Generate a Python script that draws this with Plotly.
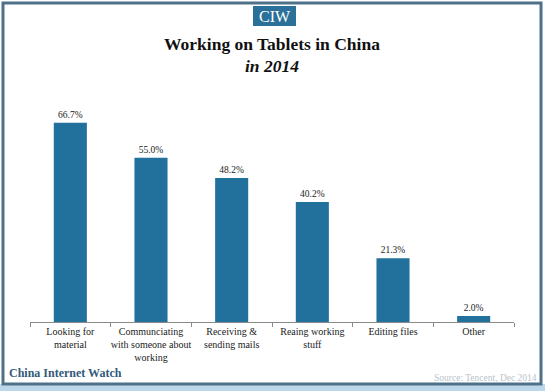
import plotly.graph_objects as go

categories = ["Looking for<br>material", "Communciating<br>with someone about<br>working",
              "Receiving &<br>sending mails", "Reaing working<br>stuff", "Editing files", "Other"]
values = [66.7, 55.0, 48.2, 40.2, 21.3, 2.0]
value_labels = ["66.7%", "55.0%", "48.2%", "40.2%", "21.3%", "2.0%"]

W, H = 545, 391
L, R, T, B = 30, 514, 100, 322  # plot area in pixels

def px(x):
    return (x - L) / (R - L)

def py(y):
    return (B - y) / (B - T)

serif = "Liberation Serif"

fig = go.Figure(go.Bar(
    x=categories, y=values, text=value_labels, textposition="outside",
    marker=dict(color="#22719d", line=dict(width=0)), width=0.41,
    textfont=dict(family=serif, size=9.5, color="#222"),
    cliponaxis=False,
))

fig.update_layout(
    width=W, height=H,
    margin=dict(l=L, r=W - R, t=T, b=H - B),
    paper_bgcolor="white", plot_bgcolor="white",
    showlegend=False,
    xaxis=dict(showline=True, linecolor="#8a8a8a", linewidth=1, ticks="outside", tickson="boundaries",
               ticklen=4, tickcolor="#8a8a8a", tickangle=0,
               tickfont=dict(family=serif, size=10, color="#222"),
               showgrid=False, fixedrange=True),
    yaxis=dict(range=[0, 74.3], visible=False, showgrid=False, fixedrange=True),
    shapes=[
        dict(type="rect", xref="paper", yref="paper", x0=px(0), x1=px(W), y0=py(H), y1=py(384),
             fillcolor="#bcd6ea", line=dict(width=0), layer="below"),
        dict(type="rect", xref="paper", yref="paper", x0=px(3), x1=px(541), y0=py(384), y1=py(3),
             line=dict(color="#4e7189", width=3), fillcolor="rgba(0,0,0,0)"),
        dict(type="rect", xref="paper", yref="paper", x0=px(253), x1=px(296), y0=py(26), y1=py(6),
             fillcolor="#2a7099", line=dict(width=0)),
    ],
    annotations=[
        dict(text="CIW", xref="paper", yref="paper", x=px(274.5), y=py(16.5), showarrow=False,
             font=dict(family=serif, size=16, color="white"), xanchor="center", yanchor="middle"),
        dict(text="<b>Working on Tablets in China</b>", xref="paper", yref="paper", x=px(272), y=py(44),
             showarrow=False, font=dict(family=serif, size=17.5, color="#111"), xanchor="center", yanchor="middle"),
        dict(text="<b><i>in 2014</i></b>", xref="paper", yref="paper", x=px(272), y=py(66),
             showarrow=False, font=dict(family=serif, size=17.5, color="#111"), xanchor="center", yanchor="middle"),
        dict(text="<b>China Internet Watch</b>", xref="paper", yref="paper", x=px(7), y=py(373),
             showarrow=False, font=dict(family=serif, size=12, color="#335a7a"), xanchor="left", yanchor="middle"),
        dict(text="Source: Tencent, Dec 2014", xref="paper", yref="paper", x=px(539), y=py(378),
             showarrow=False, font=dict(family=serif, size=9.5, color="#b8c4cc"), xanchor="right", yanchor="middle"),
    ],
)

fig.write_html("out.html", config={"displayModeBar": False},
               post_script="document.body.style.margin='0';document.body.style.overflow='hidden';")
